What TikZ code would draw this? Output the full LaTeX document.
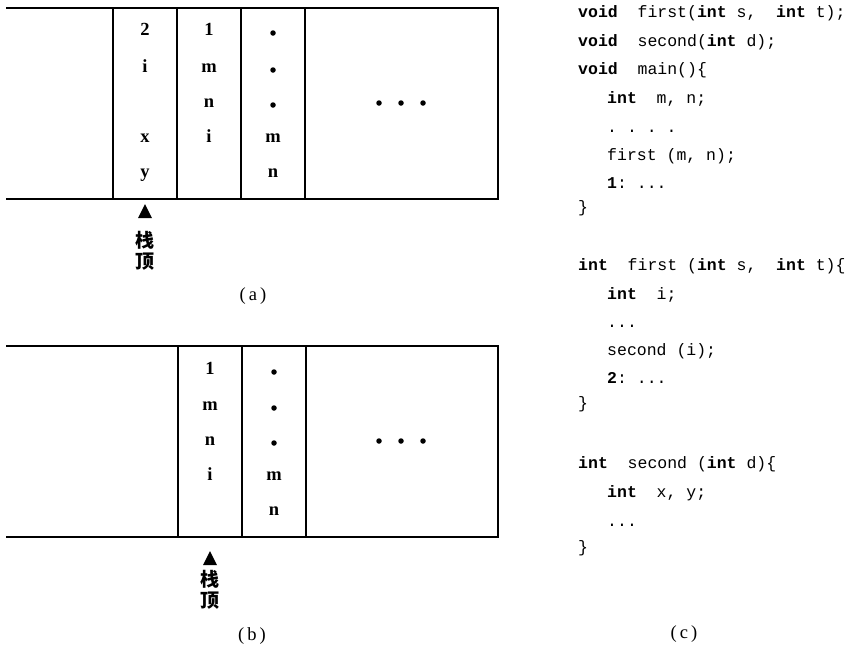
\documentclass[tikz,border=0pt]{standalone}
\usepackage{fontspec}
\setmainfont{Liberation Serif}
\newfontfamily\codefont{Liberation Mono}
\newfontfamily\cjk{Noto Sans CJK SC}
\newcommand{\kw}[1]{\textbf{#1}}
\begin{document}
\begin{tikzpicture}[x=1pt,y=-1pt,
  frame/.style={line width=1.6pt},
  sep/.style={line width=1.1pt},
  cell/.style={anchor=mid,inner sep=0pt,font=\bfseries\fontsize{18.5}{18.5}\selectfont},
  dotc/.style={circle,fill=black,inner sep=0pt,minimum size=5.5pt},
  code/.style={anchor=mid west,inner sep=0pt,font=\codefont\fontsize{16.5}{17}\selectfont},
  toplbl/.style={inner sep=0pt,align=center,font=\cjk\bfseries\fontsize{19}{21}\selectfont},
  caplbl/.style={anchor=mid,inner sep=0pt,font=\fontsize{18.5}{18.5}\selectfont}]
\useasboundingbox (0,0) rectangle (854,651);

% ---------- (a) ----------
\draw[frame] (6,8) -- (498,8) -- (498,199) -- (6,199);
\foreach \x in {113,177,241,305} \draw[sep] (\x,8) -- (\x,199);
\node[cell] (a11) at (145,33) {2};
\node[cell] (a12) at (145,70) {i};
\node[cell] (a14) at (145,140) {x};
\node[cell] (a15) at (145,175) {y};
\node[cell] (a21) at (209,33) {1};
\node[cell] (a22) at (209,70) {m};
\node[cell] (a23) at (209,105) {n};
\node[cell] (a24) at (209,140) {i};
\node[dotc] (a31) at (273,33) {};
\node[dotc] (a32) at (273,70) {};
\node[dotc] (a33) at (273,105) {};
\node[cell] (a34) at (273,140) {m};
\node[cell] (a35) at (273,175) {n};
\node[dotc] (ad1) at (379,103) {};
\node[dotc] (ad2) at (401,103) {};
\node[dotc] (ad3) at (423,103) {};
\fill (145,204) -- (152,218) -- (138,218) -- cycle;
\node[toplbl] (atop) at (145,251) {栈\\顶};
\node[caplbl] (acap) at (253,298) {(\,a\,)};

% ---------- (b) ----------
\draw[frame] (6,346) -- (498,346) -- (498,537) -- (6,537);
\foreach \x in {178,242,306} \draw[sep] (\x,346) -- (\x,537);
\node[cell] (b21) at (210,372) {1};
\node[cell] (b22) at (210,408) {m};
\node[cell] (b23) at (210,443) {n};
\node[cell] (b24) at (210,478) {i};
\node[dotc] (b31) at (274,372) {};
\node[dotc] (b32) at (274,408) {};
\node[dotc] (b33) at (274,443) {};
\node[cell] (b34) at (274,478) {m};
\node[cell] (b35) at (274,513) {n};
\node[dotc] (bd1) at (379,441) {};
\node[dotc] (bd2) at (401,441) {};
\node[dotc] (bd3) at (423,441) {};
\fill (210,551) -- (217,565) -- (203,565) -- cycle;
\node[toplbl] (btop) at (210,590) {栈\\顶};
\node[caplbl] (bcap) at (252,638) {(\,b\,)};

% ---------- (c) code ----------
\node[code] (c1) at (578,15) {\kw{void}~~first(\kw{int}~s,~~\kw{int}~t);};
\node[code] (c2) at (578,44) {\kw{void}~~second(\kw{int}~d);};
\node[code] (c3) at (578,72) {\kw{void}~~main()\{};
\node[code] (c4) at (607,101) {\kw{int}~~m,~n;};
\node[code] (c5) at (607,130) {.~.~.~.};
\node[code] (c6) at (607,158) {first~(m,~n);};
\node[code] (c7) at (607,186) {\kw{1}:~...};
\node[code] (c8) at (578,210) {\}};
\node[code] (c9) at (578,268) {\kw{int}~~first~(\kw{int}~s,~~\kw{int}~t)\{};
\node[code] (c10) at (607,297) {\kw{int}~~i;};
\node[code] (c11) at (607,325) {...};
\node[code] (c12) at (607,353) {second~(i);};
\node[code] (c13) at (607,381) {\kw{2}:~...};
\node[code] (c14) at (578,406) {\}};
\node[code] (c15) at (578,466) {\kw{int}~~second~(\kw{int}~d)\{};
\node[code] (c16) at (607,495) {\kw{int}~~x,~y;};
\node[code] (c17) at (607,524) {...};
\node[code] (c18) at (578,550) {\}};
\node[caplbl] (ccap) at (684,636) {(\,c\,)};
\end{tikzpicture}
\end{document}
